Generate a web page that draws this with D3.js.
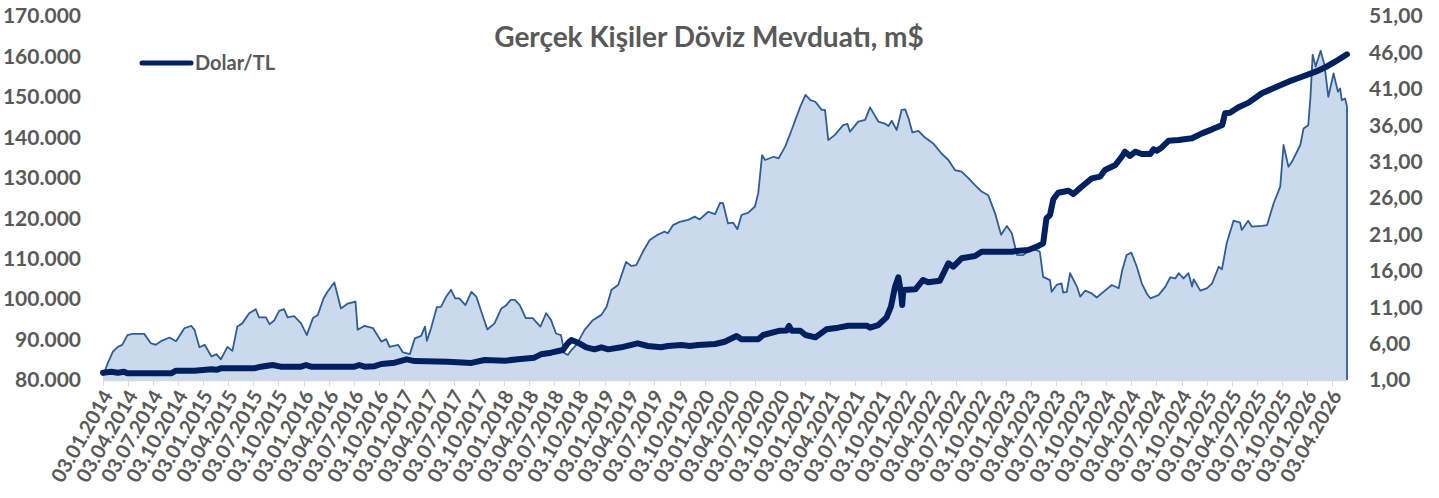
<!DOCTYPE html>
<html>
<head>
<meta charset="utf-8">
<script src="https://cdn.jsdelivr.net/npm/d3@7"></script>
<style>
    body { margin: 0; background: #fff; }
    svg text { font-family: Lato, "Open Sans", sans-serif; font-weight: bold; fill: #595959; }
</style>
</head>
<body>
<div id="chart"></div>
<script>
// Gerçek kişiler döviz mevduatı (m$) - left axis
var depDates = [
    "2014-01-03","2014-01-20","2014-02-08","2014-02-26","2014-03-14","2014-04-02","2014-04-20","2014-06-02","2014-06-26","2014-07-14",
    "2014-08-02","2014-09-02","2014-09-26","2014-10-26","2014-11-20","2014-12-02","2014-12-20","2015-01-08","2015-02-02","2015-02-20",
    "2015-03-08","2015-04-01","2015-04-19","2015-05-07","2015-05-25","2015-06-19","2015-07-13","2015-07-25","2015-08-19","2015-09-01",
    "2015-09-18","2015-10-06","2015-10-24","2015-11-06","2015-11-30","2015-12-25","2016-01-15","2016-02-06","2016-02-24","2016-03-16",
    "2016-03-30","2016-04-24","2016-05-18","2016-06-12","2016-07-10","2016-07-18","2016-08-12","2016-09-12","2016-10-12","2016-10-30",
    "2016-11-11","2016-12-12","2016-12-30","2017-01-24","2017-02-11","2017-03-06","2017-03-20","2017-03-27","2017-04-11","2017-05-02",
    "2017-05-17","2017-06-05","2017-06-23","2017-07-08","2017-07-23","2017-08-14","2017-09-05","2017-09-23","2017-10-13","2017-11-02",
    "2017-11-28","2017-12-23","2018-01-10","2018-01-26","2018-02-10","2018-02-28","2018-03-22","2018-04-16","2018-05-14","2018-06-04",
    "2018-06-22","2018-07-10","2018-07-28","2018-08-10","2018-08-22","2018-09-04","2018-09-22","2018-10-22","2018-11-21","2018-12-22",
    "2019-01-10","2019-01-28","2019-02-21","2019-03-22","2019-04-10","2019-04-28","2019-05-22","2019-06-16","2019-07-15","2019-08-09",
    "2019-08-21","2019-09-09","2019-10-03","2019-11-03","2019-11-27","2019-12-15","2020-01-15","2020-02-09","2020-02-27","2020-03-09",
    "2020-03-27","2020-04-15","2020-04-30","2020-05-15","2020-06-09","2020-07-03","2020-07-15","2020-07-29","2020-08-09","2020-09-09",
    "2020-09-27","2020-10-21","2020-11-09","2020-11-27","2020-12-15","2021-01-03","2021-01-21","2021-02-08","2021-03-03","2021-03-15",
    "2021-03-27","2021-04-20","2021-05-20","2021-06-05","2021-06-14","2021-07-14","2021-08-08","2021-08-26","2021-09-25","2021-10-19",
    "2021-11-01","2021-11-13","2021-12-01","2021-12-19","2022-01-01","2022-01-13","2022-01-27","2022-02-18","2022-03-13","2022-04-13",
    "2022-05-13","2022-06-07","2022-07-01","2022-07-25","2022-08-19","2022-09-12","2022-10-06","2022-10-30","2022-11-24","2022-12-16",
    "2023-01-06","2023-01-24","2023-02-12","2023-03-06","2023-03-30","2023-04-24","2023-05-06","2023-05-18","2023-06-12","2023-06-18",
    "2023-07-06","2023-07-24","2023-07-30","2023-08-12","2023-08-24","2023-09-18","2023-09-30","2023-10-18","2023-11-11","2023-11-29",
    "2023-12-29","2024-01-23","2024-02-17","2024-03-01","2024-03-17","2024-04-03","2024-04-23","2024-05-11","2024-05-29","2024-06-11",
    "2024-07-11","2024-08-05","2024-08-23","2024-09-10","2024-09-22","2024-10-10","2024-10-28","2024-11-10","2024-11-16","2024-12-10",
    "2025-01-04","2025-01-22","2025-02-15","2025-02-27","2025-03-16","2025-04-10","2025-05-04","2025-05-10","2025-06-02","2025-06-16",
    "2025-07-22","2025-08-10","2025-09-03","2025-09-27","2025-10-09","2025-10-27","2025-11-09","2025-12-09","2025-12-21","2026-01-07",
    "2026-01-15","2026-01-23","2026-02-03","2026-02-21","2026-03-07","2026-03-21","2026-04-09","2026-04-25","2026-05-03","2026-05-09",
    "2026-05-21","2026-05-28"
];
var depValues = [
    81000,84100,87000,88200,88700,91100,91400,91400,89100,88700,
    89600,90500,89600,92800,93400,92400,88100,88700,85800,86400,
    85100,88200,87200,93200,94000,96500,97500,95500,95500,93800,
    94700,97100,97500,95500,95800,94000,91100,95300,96100,100200,
    101800,104100,97700,98900,99400,92400,93400,92800,89500,90100,
    88200,88700,86800,86400,90300,90900,93200,89700,92800,98000,
    98100,100600,102300,100200,100200,98500,101800,100600,96500,92500,
    94000,97700,98500,99800,99800,98500,95300,95300,93200,96500,
    94800,91500,91100,86600,86200,87400,88700,92400,94800,96100,
    98100,102300,103500,109200,108200,108400,111700,114600,115900,116700,
    116300,118300,119100,119600,120400,119700,121600,121000,123800,123700,
    118700,118900,117300,120800,121400,122900,126200,135600,134400,135200,
    134800,137700,141000,144300,147600,150500,149200,148800,146800,146800,
    139300,140600,143000,143300,141400,143900,144300,147400,143900,143400,
    142800,144100,141800,146800,146900,144700,141200,141600,140000,138500,
    136000,134400,131900,131500,129900,128200,126600,125700,121200,115900,
    118100,116300,110900,110900,112100,112100,111700,105500,104700,101800,
    103500,103900,101600,101800,106400,103100,100600,102100,101400,100400,
    102100,103500,102700,107200,110900,111500,108000,103900,101400,100200,
    101000,103100,105400,105100,106400,105100,106400,103100,104900,102100,
    102700,103900,108000,107400,113800,119400,118900,117100,119400,117900,
    118100,118300,123700,127800,138100,132700,134000,138100,142200,143000,
    150000,160400,157500,161400,157900,150000,155800,151300,152100,149200,
    149600,147600
];

// Dolar/TL - right axis
var usdDates = [
    "2014-01-03","2014-02-02","2014-02-26","2014-03-20","2014-04-02","2014-09-08","2014-09-26","2014-12-02","2015-02-02","2015-02-20",
    "2015-03-08","2015-07-07","2015-08-01","2015-09-12","2015-10-12","2015-12-25","2016-01-12","2016-01-30","2016-07-06","2016-07-24",
    "2016-08-12","2016-09-18","2016-10-12","2016-11-30","2017-01-12","2017-02-11","2017-06-11","2017-09-05","2017-10-23","2018-01-05",
    "2018-02-22","2018-04-22","2018-05-16","2018-06-22","2018-08-04","2018-08-22","2018-09-04","2018-09-28","2018-10-28","2018-11-27",
    "2018-12-22","2019-01-16","2019-03-04","2019-05-03","2019-06-09","2019-07-27","2019-08-21","2019-10-09","2019-11-09","2019-12-09",
    "2020-02-09","2020-03-15","2020-04-27","2020-05-15","2020-07-15","2020-08-02","2020-10-02","2020-10-26","2020-11-04","2020-11-14",
    "2020-12-15","2021-01-03","2021-02-08","2021-03-20","2021-05-02","2021-06-08","2021-08-14","2021-08-26","2021-09-25","2021-10-25",
    "2021-11-10","2021-11-25","2021-12-07","2021-12-17","2021-12-21","2021-12-25","2022-02-07","2022-03-07","2022-03-25","2022-05-07",
    "2022-06-07","2022-06-25","2022-07-25","2022-09-12","2022-10-06","2023-01-24","2023-02-18","2023-03-24","2023-04-24","2023-05-18",
    "2023-05-30","2023-06-12","2023-06-24","2023-07-12","2023-08-18","2023-09-05","2023-10-05","2023-11-11","2023-12-11","2023-12-29",
    "2024-02-05","2024-03-01","2024-03-11","2024-03-29","2024-04-17","2024-05-11","2024-06-11","2024-06-23","2024-07-05","2024-07-23",
    "2024-08-17","2024-09-22","2024-11-10","2024-12-16","2025-01-22","2025-02-28","2025-03-10","2025-03-28","2025-04-28","2025-06-04",
    "2025-07-22","2025-09-10","2025-10-27","2025-12-15","2026-02-03","2026-03-10","2026-04-15","2026-05-28"
];
var usdValues = [
    2.00,2.14,2.00,2.14,1.92,1.92,2.28,2.28,2.47,2.40,
    2.60,2.60,2.83,3.06,2.83,2.83,3.06,2.83,2.83,3.06,
    2.83,2.90,3.20,3.38,3.84,3.60,3.52,3.35,3.75,3.65,
    3.84,4.07,4.53,4.75,5.12,6.04,6.49,6.12,5.49,5.21,
    5.49,5.21,5.49,6.04,5.67,5.49,5.67,5.81,5.67,5.81,
    5.95,6.26,7.04,6.59,6.59,7.18,7.77,7.80,8.42,7.77,
    7.77,7.18,6.86,7.96,8.19,8.46,8.46,8.19,8.55,9.60,
    11.07,13.82,15.10,12.90,11.30,13.36,13.45,14.74,14.42,14.64,
    17.03,16.57,17.72,18.03,18.62,18.62,18.76,18.86,19.30,19.78,
    23.20,23.67,25.82,26.73,27.00,26.55,27.55,28.70,28.93,29.85,
    30.53,31.77,32.36,31.77,32.36,32.04,32.04,32.69,32.50,32.95,
    33.87,33.97,34.20,34.88,35.43,36.03,37.63,37.72,38.46,39.10,
    40.39,41.20,41.98,42.66,43.35,43.95,44.72,45.74
];

var xLabels = [
    "03.01.2014","03.04.2014","03.07.2014","03.10.2014","03.01.2015","03.04.2015","03.07.2015","03.10.2015",
    "03.01.2016","03.04.2016","03.07.2016","03.10.2016","03.01.2017","03.04.2017","03.07.2017","03.10.2017",
    "03.01.2018","03.04.2018","03.07.2018","03.10.2018","03.01.2019","03.04.2019","03.07.2019","03.10.2019",
    "03.01.2020","03.04.2020","03.07.2020","03.10.2020","03.01.2021","03.04.2021","03.07.2021","03.10.2021",
    "03.01.2022","03.04.2022","03.07.2022","03.10.2022","03.01.2023","03.04.2023","03.07.2023","03.10.2023",
    "03.01.2024","03.04.2024","03.07.2024","03.10.2024","03.01.2025","03.04.2025","03.07.2025","03.10.2025",
    "03.01.2026","03.04.2026"
];
var leftTicks = [80000, 90000, 100000, 110000, 120000, 130000, 140000, 150000, 160000, 170000];
var rightTicks = [1, 6, 11, 16, 21, 26, 31, 36, 41, 46, 51];

var parseDate = d3.timeParse("%Y-%m-%d"),
    parseLabel = d3.timeParse("%d.%m.%Y");

var dep = depDates.map(function (d, i) { return {date: parseDate(d), value: depValues[i]}; });
var usd = usdDates.map(function (d, i) { return {date: parseDate(d), value: usdValues[i]}; });

var W = 1439, H = 498;
var margin = {top: 16, right: 92, bottom: 118, left: 103},
    plotLeft = margin.left, plotRight = W - margin.right,
    plotTop = margin.top, plotBottom = H - margin.bottom;

var trLocale = d3.formatLocale({decimal: ",", thousands: ".", grouping: [3], currency: ["", ""]});
var fmtLeft = trLocale.format(",.0f"),
    fmtRight = trLocale.format(".2f");

var svg = d3.select("#chart").append("svg")
    .attr("width", W)
    .attr("height", H);

var x = d3.scaleTime()
    .domain([dep[0].date, dep[dep.length - 1].date])
    .range([plotLeft, plotRight]);

var yL = d3.scaleLinear().domain([80000, 170000]).range([plotBottom, plotTop]);
var yR = d3.scaleLinear().domain([1, 51]).range([plotBottom, plotTop]);

// area
var area = d3.area()
    .x(function (d) { return x(d.date); })
    .y0(plotBottom)
    .y1(function (d) { return yL(d.value); });

svg.append("path")
    .datum(dep)
    .attr("d", area)
    .attr("fill", "#CBD9EC");

var depLine = d3.line()
    .x(function (d) { return x(d.date); })
    .y(function (d) { return yL(d.value); });

svg.append("path")
    .datum(dep.concat([{date: dep[dep.length - 1].date, value: 80000}]))
    .attr("d", depLine)
    .attr("fill", "none")
    .attr("stroke", "#2F5D96")
    .attr("stroke-width", 1.8)
    .attr("stroke-linejoin", "round");

// x axis line + ticks
svg.append("line")
    .attr("x1", plotLeft).attr("x2", plotRight)
    .attr("y1", plotBottom + 0.5).attr("y2", plotBottom + 0.5)
    .attr("stroke", "#D9D9D9")
    .attr("stroke-width", 1.5);

var xg = svg.append("g");
xLabels.forEach(function (lab) {
    var px = Math.round(x(parseLabel(lab))) + 0.5;
    xg.append("line")
        .attr("x1", px).attr("x2", px)
        .attr("y1", plotBottom).attr("y2", plotBottom + 6)
        .attr("stroke", "#D9D9D9")
        .attr("stroke-width", 1);
    xg.append("text")
        .attr("transform", "translate(" + (px + 4) + "," + (plotBottom + 12) + ") rotate(-60)")
        .attr("text-anchor", "end")
        .attr("dy", "0.35em")
        .style("font-size", "20px")
        .text(lab);
});

// usd line
var usdLine = d3.line()
    .x(function (d) { return x(d.date); })
    .y(function (d) { return yR(d.value); });

svg.append("path")
    .datum(usd)
    .attr("d", usdLine)
    .attr("fill", "none")
    .attr("stroke", "#002060")
    .attr("stroke-width", 6)
    .attr("stroke-linejoin", "round")
    .attr("stroke-linecap", "round");

// left axis labels
svg.selectAll(".ltick")
    .data(leftTicks)
    .enter().append("text")
    .attr("class", "ltick")
    .attr("x", 81)
    .attr("y", function (d) { return yL(d); })
    .attr("dy", "0.35em")
    .attr("text-anchor", "end")
    .style("font-size", "21px")
    .text(function (d) { return fmtLeft(d); });

// right axis labels
svg.selectAll(".rtick")
    .data(rightTicks)
    .enter().append("text")
    .attr("class", "rtick")
    .attr("x", 1369)
    .attr("y", function (d) { return yR(d); })
    .attr("dy", "0.35em")
    .attr("text-anchor", "start")
    .style("font-size", "21px")
    .text(function (d) { return fmtRight(d); });

// legend
svg.append("line")
    .attr("x1", 142).attr("x2", 191)
    .attr("y1", 63).attr("y2", 63)
    .attr("stroke", "#002060")
    .attr("stroke-width", 5)
    .attr("stroke-linecap", "round");

svg.append("text")
    .attr("x", 195)
    .attr("y", 63)
    .attr("dy", "0.35em")
    .style("font-size", "20px")
    .text("Dolar/TL");

// title
svg.append("text")
    .attr("x", 709)
    .attr("y", 37)
    .attr("dy", "0.35em")
    .attr("text-anchor", "middle")
    .style("font-size", "28px")
    .text("Gerçek Kişiler Döviz Mevduatı, m$");
</script>
</body>
</html>
